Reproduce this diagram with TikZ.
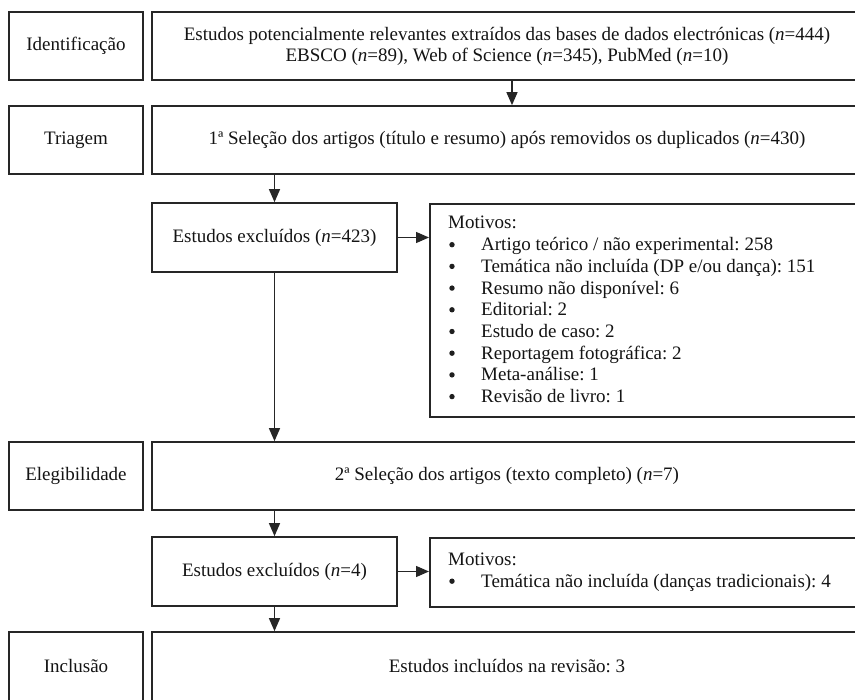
\documentclass[tikz,border=0pt]{standalone}
\usepackage{fontspec}
\setmainfont{Liberation Serif}
\usetikzlibrary{arrows.meta}
\begin{document}
\frenchspacing
\begin{tikzpicture}[x=1pt,y=-1pt,
  every node/.style={font=\fontsize{19}{21}\selectfont, text=black!92},
  box/.style={draw=black!85, line width=1.7pt, inner sep=0pt, align=center},
  lab/.style={box, minimum width=134pt, minimum height=68pt},
  mainbox/.style={box, minimum width=710pt, minimum height=68pt},
  exclbox/.style={box, minimum width=245pt, minimum height=69pt},
  motbox/.style={box, anchor=north west, minimum width=433pt},
  item/.style={anchor=base west, inner sep=0pt},
  dot/.style={fill=black!88},
  arr/.style={line width=1.3pt, draw=black!85, -{Triangle[length=13pt,width=11pt]}}]
\useasboundingbox (0,0) rectangle (855,700);
\clip (0,0) rectangle (855,700);
\fill[white] (0,0) rectangle (855,700);

\node[lab] (lid) at (76,46) {Identificação};
\node[mainbox] (mid) at (507,46) {Estudos potencialmente relevantes extraídos das bases de dados electrónicas (\textit{n}=444)\\ EBSCO (\textit{n}=89), Web of Science (\textit{n}=345), PubMed (\textit{n}=10)};

\node[lab] (ltr) at (76,140) {Triagem};
\node[mainbox] (mtr) at (507,140) {1ª Seleção dos artigos (título e resumo) após removidos os duplicados (\textit{n}=430)};

\node[exclbox] (ex1) at (274.5,237.5) {Estudos excluídos (\textit{n}=423)};
\node[motbox, minimum height=213pt] (mo1) at (429,203) {};
\node[item] (mh1) at (448,229) {Motivos:};
\foreach \t [count=\i] in {Artigo teórico / não experimental: 258,
  Temática não incluída (DP e/ou dança): 151,
  Resumo não disponível: 6,
  Editorial: 2,
  Estudo de caso: 2,
  Reportagem fotográfica: 2,
  Meta-análise: 1,
  Revisão de livro: 1}{
  \node[item] (ma\i) at (481,229+21.7*\i) {\t};
  \fill[dot] (452,223+21.7*\i) circle (2.7pt);
}

\node[lab] (lel) at (76,476) {Elegibilidade};
\node[mainbox] (mel) at (507,476) {2ª Seleção dos artigos (texto completo) (\textit{n}=7)};

\node[exclbox] (ex2) at (274.5,571.5) {Estudos excluídos (\textit{n}=4)};
\node[motbox, minimum height=69pt] (mo2) at (429,537) {};
\node[item] (mh2) at (448,565.5) {Motivos:};
\node[item] (mb1) at (481,587.2) {Temática não incluída (danças tradicionais): 4};
\fill[dot] (452,581.2) circle (2.7pt);

\node[lab, minimum height=70pt] (lin) at (76,667) {\raisebox{3pt}{Inclusão}};
\node[mainbox, minimum height=70pt] (min) at (507,667) {\raisebox{3pt}{Estudos incluídos na revisão: 3}};

\coordinate (ax) at (512,0);
\draw[arr] (mid.south -| ax) -- (mtr.north -| ax);
\draw[arr] (mtr.south -| ex1.north) -- (ex1.north);
\draw[arr] (ex1.east) -- (ex1.east -| mo1.west);
\draw[arr] (ex1.south) -- (mel.north -| ex1.south);
\draw[arr] (mel.south -| ex2.north) -- (ex2.north);
\draw[arr] (ex2.east) -- (ex2.east -| mo2.west);
\draw[arr] (ex2.south) -- (min.north -| ex2.south);
\end{tikzpicture}
\end{document}
